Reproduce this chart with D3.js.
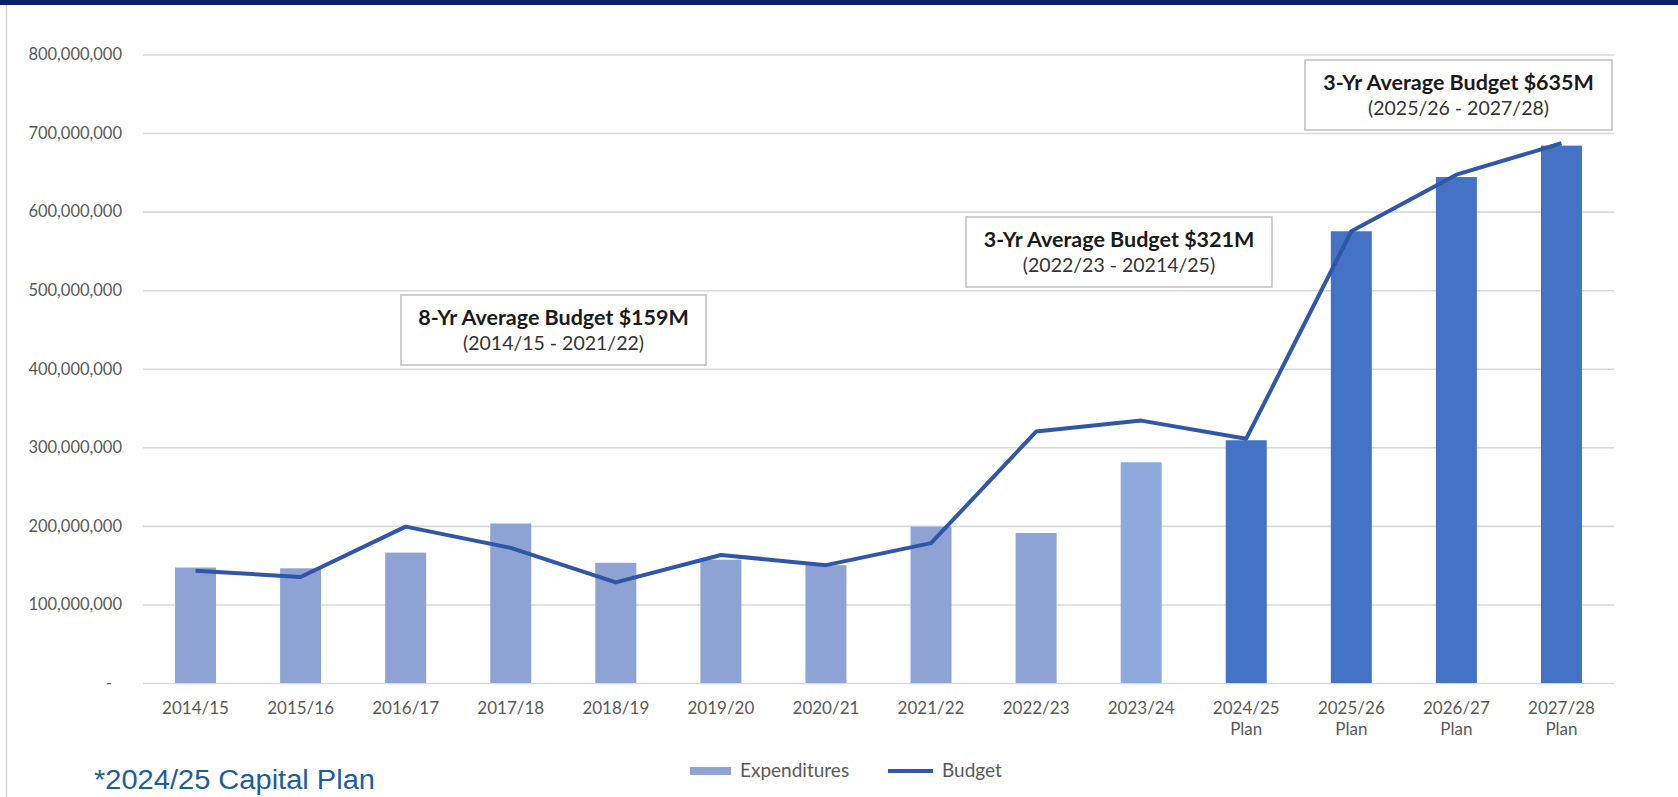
<!DOCTYPE html>
<html>
<head>
<meta charset="utf-8">
<script src="https://cdn.jsdelivr.net/npm/d3@7"></script>
<style>
  body { margin: 0; background: #fff; }
  text { font-family: Lato, "Open Sans", sans-serif; }
</style>
</head>
<body>
<script>
// data
var years = ["2014/15","2015/16","2016/17","2017/18","2018/19","2019/20","2020/21",
             "2021/22","2022/23","2023/24","2024/25","2025/26","2026/27","2027/28"]
var isPlan = [false,false,false,false,false,false,false,false,false,false,true,true,true,true]
var expenditures = [147e6,146e6,166e6,203e6,153e6,157e6,150e6,199e6,191e6,281e6,309e6,575e6,644e6,684e6]
var budget = [143e6,135e6,199e6,172e6,128e6,163e6,150e6,178e6,320e6,334e6,311e6,575e6,647e6,687e6]
var yTicks = [0,100e6,200e6,300e6,400e6,500e6,600e6,700e6,800e6]
var notes = [
  ["8-Yr Average Budget $159M", "(2014/15 - 2021/22)"],
  ["3-Yr Average Budget $321M", "(2022/23 - 20214/25)"],
  ["3-Yr Average Budget $635M", "(2025/26 - 2027/28)"]
]
var noteBoxes = [{x:401,y:295,w:305,h:70},{x:966,y:217,w:306,h:70},{x:1305,y:60,w:307,h:70}]

var W = 1678, H = 797
var svg = d3.select("body").append("svg")
  .attr('width', W)
  .attr('height', H)

// frame: navy top bar and thin left rule
svg.append("rect").attr('x',0).attr('y',0).attr('width',W).attr('height',5).style('fill','#0b2160')
svg.append("line").attr('x1',6.5).attr('x2',6.5).attr('y1',5).attr('y2',H)
  .style('stroke','#d4d4d4').style('stroke-width',1.5)

var left = 143, right = 1614
var x = d3.scaleBand().domain(years).range([left, right]).padding(0)
var y = d3.scaleLinear().domain([0, 800e6]).range([683, 54.5])
var barW = 41

// y axis + gridlines
var fmt = d3.format(",")
var yAxis = svg.append("g")
  .attr('transform', 'translate(' + left + ',0)')
  .call(d3.axisLeft(y).tickValues(yTicks).tickSize(-(right-left)).tickPadding(21)
    .tickFormat(function(d){ return d==0 ? "-" : fmt(d) }))
yAxis.select(".domain").remove()
yAxis.selectAll(".tick line").style('stroke','#d9d9d9').style('stroke-width',1.6)
yAxis.selectAll(".tick text")
  .style('font-size','16.5px')
  .style('fill','#595959')
  .attr('dx', function(d){ return d==0 ? -10 : 0 })

// bars
svg.append("g").selectAll("rect")
  .data(years)
  .enter().append("rect")
  .attr('x', function(d){ return x(d) + x.bandwidth()/2 - barW/2 })
  .attr('y', function(d,i){ return y(expenditures[i]) })
  .attr('width', barW)
  .attr('height', function(d,i){ return y(0) - y(expenditures[i]) })
  .style('fill', function(d,i){
    if (isPlan[i]) return "#4472c4"
    if (d=="2023/24") return "#8eaadc"
    return "#8fa2d4"
  })

// budget line
var line = d3.line()
  .x(function(d,i){ return x(years[i]) + x.bandwidth()/2 })
  .y(function(d){ return y(d) })
svg.append("path")
  .datum(budget)
  .attr('d', line)
  .style('fill','none')
  .style('stroke','#3056a8')
  .style('stroke-width',4)
  .style('stroke-linejoin','round')

// x labels
var xl = svg.append("g").selectAll("text")
  .data(years)
  .enter().append("text")
  .attr('x', function(d){ return x(d) + x.bandwidth()/2 })
  .attr('y', 714)
  .attr('text-anchor','middle')
  .style('font-size','17px')
  .style('fill','#595959')
xl.append("tspan").text(function(d){ return d })
xl.append("tspan")
  .attr('x', function(d){ return x(d) + x.bandwidth()/2 })
  .attr('dy', 21)
  .text(function(d,i){ return isPlan[i] ? "Plan" : "" })

// annotation boxes
noteBoxes.forEach(function(b,i){
  var g = svg.append("g")
  g.append("rect")
    .attr('x', b.x).attr('y', b.y).attr('width', b.w).attr('height', b.h)
    .style('fill','#fff').style('stroke','#bfbfbf').style('stroke-width',1.5)
  g.append("text")
    .attr('x', b.x + b.w/2).attr('y', b.y + 30)
    .attr('text-anchor','middle')
    .style('font-size','21.5px').style('font-weight','bold').style('fill','#1a1a1a')
    .text(notes[i][0])
  g.append("text")
    .attr('x', b.x + b.w/2).attr('y', b.y + 55)
    .attr('text-anchor','middle')
    .style('font-size','19.5px').style('fill','#333')
    .text(notes[i][1])
})

// legend
var lg = svg.append("g")
lg.append("rect").attr('x',690).attr('y',767).attr('width',41).attr('height',8).style('fill','#8fa2d4')
lg.append("text").attr('x',740).attr('y',777).text("Expenditures")
  .style('font-size','19px').style('fill','#595959')
lg.append("line").attr('x1',888).attr('x2',933).attr('y1',771).attr('y2',771)
  .style('stroke','#3056a8').style('stroke-width',4)
lg.append("text").attr('x',942).attr('y',777).text("Budget")
  .style('font-size','19px').style('fill','#595959')

// footnote
svg.append("text")
  .attr('x', 94).attr('y', 789)
  .attr('textLength', 281).attr('lengthAdjust','spacingAndGlyphs')
  .style('font-family','"Liberation Sans Narrow", "Liberation Sans", Arial, sans-serif')
  .style('font-size','27px')
  .style('fill','#1c5d9c')
  .text("*2024/25 Capital Plan")
</script>
</body>
</html>
